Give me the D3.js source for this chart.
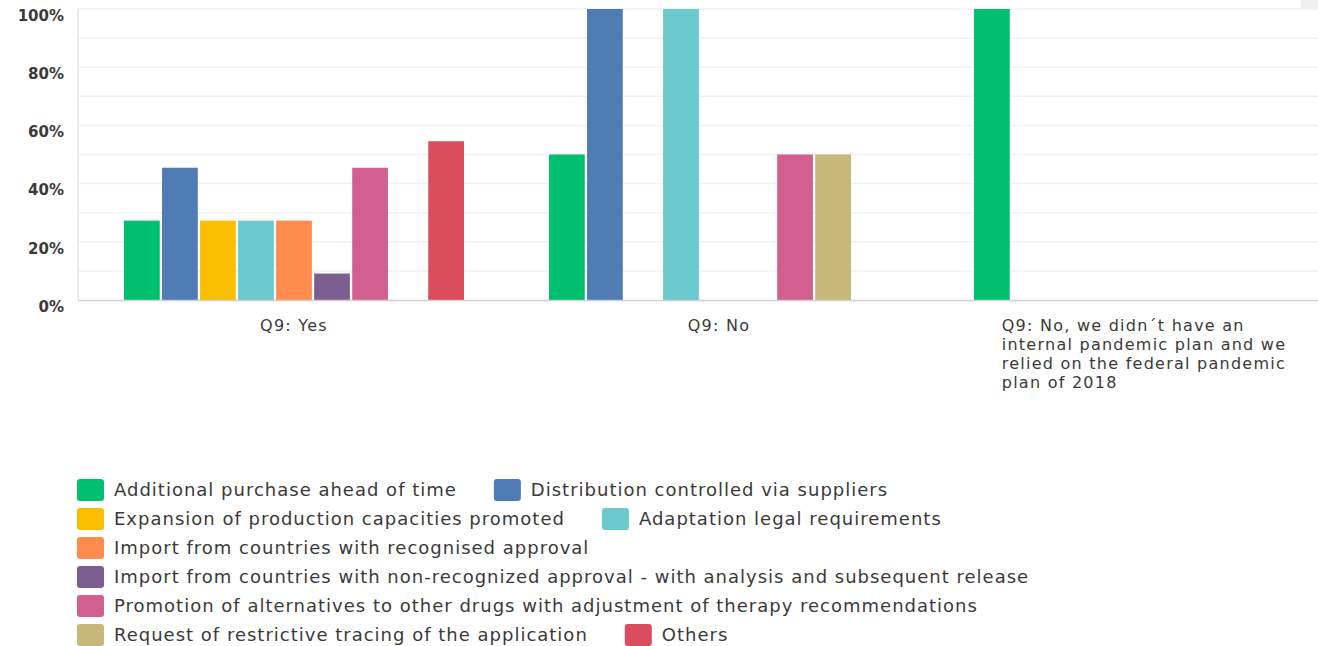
<!DOCTYPE html>
<html>
<head>
<meta charset="utf-8">
<script src="https://cdn.jsdelivr.net/npm/d3@7"></script>
<style>
  html, body { margin: 0; padding: 0; background: #fff; overflow: hidden; }
  svg { display: block; font-family: "DejaVu Sans", sans-serif; }
</style>
</head>
<body>
<svg id="chart" width="1318" height="646"></svg>
<script>
// ---- data ----
const categories = [
  "Q9: Yes",
  "Q9: No",
  "Q9: No, we didn´t have an internal pandemic plan and we relied on the federal pandemic plan of 2018"
];
const seriesNames = [
  "Additional purchase ahead of time",
  "Distribution controlled via suppliers",
  "Expansion of production capacities promoted",
  "Adaptation legal requirements",
  "Import from countries with recognised approval",
  "Import from countries with non-recognized approval - with analysis and subsequent release",
  "Promotion of alternatives to other drugs with adjustment of therapy recommendations",
  "Request of restrictive tracing of the application",
  "Others"
];
const seriesColors = ["#00BF6F", "#507CB6", "#F9BE00", "#6BC8CD", "#FF8B4F", "#7D5E90", "#D25F90", "#C7B879", "#DB4D5C"];
// values in percent, one array per series, ordered like categories
const additionalPurchase   = [27.27, 50, 100];
const distributionSupplier = [45.45, 100, 0];
const expansionProduction  = [27.27, 0, 0];
const adaptationLegal      = [27.27, 100, 0];
const importRecognised     = [27.27, 0, 0];
const importNonRecognized  = [9.09, 0, 0];
const promotionAlternatives= [45.45, 50, 0];
const requestTracing       = [0, 50, 0];
const others               = [54.55, 0, 0];
const seriesValues = [additionalPurchase, distributionSupplier, expansionProduction, adaptationLegal,
  importRecognised, importNonRecognized, promotionAlternatives, requestTracing, others];
const yTicks = [0, 20, 40, 60, 80, 100];
const yGrid = [10, 20, 30, 40, 50, 60, 70, 80, 90, 100];

// ---- layout ----
const svg = d3.select("#chart");
const mLeft = 78, mRight = 1318, mTop = 9, mBottom = 300;

const x0 = d3.scaleBand().domain(categories).range([81.5, 1356.5]).paddingInner(0.2).paddingOuter(0.1);
const x1 = d3.scaleBand().domain(seriesNames).range([0, x0.bandwidth()]).paddingInner(0.06).paddingOuter(0);
const y = d3.scaleLinear().domain([0, 100]).range([mBottom, mTop]);

// gridlines
svg.append("g").selectAll("line").data(yGrid).join("line")
  .attr("x1", mLeft).attr("x2", mRight)
  .attr("y1", d => y(d)).attr("y2", d => y(d))
  .attr("stroke", "#f1f1f1").attr("stroke-width", 1.5);

// left axis line
svg.append("line").attr("x1", mLeft).attr("x2", mLeft).attr("y1", mTop).attr("y2", mBottom)
  .attr("stroke", "#e6e6e6").attr("stroke-width", 1.5);

// y tick labels
const yAxis = d3.axisLeft(y).tickValues(yTicks).tickFormat(d => d + "%").tickSize(0).tickPadding(14);
const ya = svg.append("g").attr("transform", `translate(${mLeft},0)`).call(yAxis);
ya.select(".domain").remove();
ya.selectAll("text").attr("font-size", 15).attr("font-weight", "bold").attr("fill", "#3a3a3a")
  .attr("dy", "0.75em").attr("font-family", "'DejaVu Sans', sans-serif");

// bars
const groups = svg.append("g").selectAll("g").data(categories).join("g")
  .attr("transform", c => `translate(${x0(c)},0)`);
groups.selectAll("rect")
  .data((c, ci) => seriesNames.map((s, si) => ({ s, si, v: seriesValues[si][ci] })).filter(d => d.v > 0))
  .join("rect")
  .attr("x", d => x1(d.s))
  .attr("width", x1.bandwidth())
  .attr("y", d => y(d.v))
  .attr("height", d => y(0) - y(d.v))
  .attr("fill", d => seriesColors[d.si]);

// baseline
svg.append("line").attr("x1", mLeft).attr("x2", mRight).attr("y1", mBottom + 0.5).attr("y2", mBottom + 0.5)
  .attr("stroke", "#cfcfcf").attr("stroke-width", 1.5);

// category labels (wrapped)
const catG = svg.append("g").attr("font-size", 16).attr("letter-spacing", 1.25).attr("fill", "#3a3a3a");
categories.forEach(c => {
  const cx = x0(c) + x0.bandwidth() / 2;
  const t = catG.append("text").attr("y", 331);
  const words = c.split(" ");
  let lines = [], line = [];
  const probe = catG.append("text").attr("visibility", "hidden");
  words.forEach(w => {
    const test = line.concat([w]).join(" ");
    probe.text(test);
    if (probe.node().getComputedTextLength() > 303 && line.length) { lines.push(line.join(" ")); line = [w]; }
    else line.push(w);
  });
  lines.push(line.join(" "));
  let maxW = 0;
  lines.forEach(l => { probe.text(l); maxW = Math.max(maxW, probe.node().getComputedTextLength()); });
  probe.remove();
  if (lines.length === 1) {
    t.attr("x", cx).attr("text-anchor", "middle").text(lines[0]);
  } else {
    const lx = cx - maxW / 2;
    lines.forEach((l, i) => t.append("tspan").attr("x", lx).attr("dy", i === 0 ? 0 : 19).text(l));
  }
});

// legend (flow layout)
const legend = svg.append("g").attr("font-size", 18).attr("letter-spacing", 1).attr("fill", "#3a3a3a");
let lgx = 77, lgy = 490;
const maxX = 1240, rowH = 29, sw = 27, sh = 22, gapText = 10, gapItem = 37;
seriesNames.forEach((s, i) => {
  const g = legend.append("g");
  const txt = g.append("text").attr("dy", "0.35em").text(s);
  const w = sw + gapText + txt.node().getComputedTextLength();
  if (lgx > 77 && lgx + w > maxX) { lgx = 77; lgy += rowH; }
  g.attr("transform", `translate(${lgx},${lgy})`);
  g.insert("rect", "text").attr("x", 0).attr("y", -sh / 2).attr("width", sw).attr("height", sh)
    .attr("rx", 3).attr("fill", seriesColors[i]);
  txt.attr("x", sw + gapText);
  lgx += w + gapItem;
});

// top-right corner block
svg.append("rect").attr("x", 1301).attr("y", 0).attr("width", 17).attr("height", 8).attr("fill", "#efefef");
</script>
</body>
</html>
